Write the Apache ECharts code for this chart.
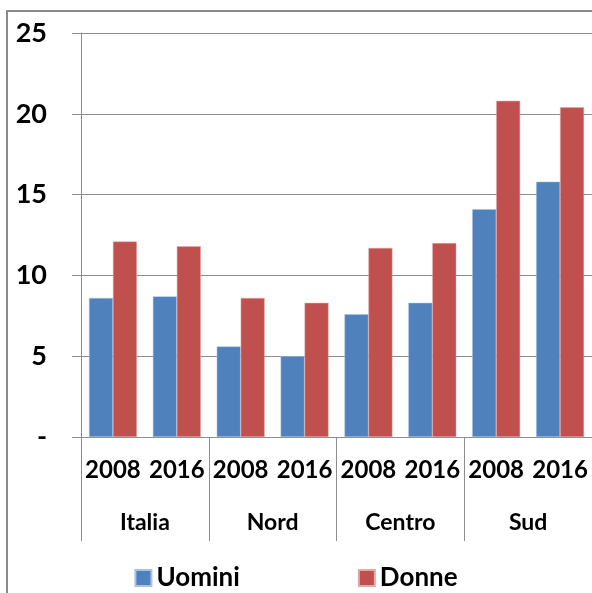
<!DOCTYPE html>
<html>
<head>
<meta charset="utf-8">
<script src="https://cdn.jsdelivr.net/npm/echarts@6/dist/echarts.min.js"></script>
<style>
  html, body { margin: 0; padding: 0; background: #fff; }
  #chart { width: 592px; height: 593px; }
</style>
</head>
<body>
<div id="chart"></div>
<script>
// dati
var anni = ['2008', '2016', '2008', '2016', '2008', '2016', '2008', '2016']
var aree = ['Italia', 'Nord', 'Centro', 'Sud']
var uomini = [8.6, 8.7, 5.6, 5.0, 7.6, 8.3, 14.1, 15.8]
var donne = [12.1, 11.8, 8.6, 8.3, 11.7, 12.0, 20.8, 20.4]
var yTicks = [0, 5, 10, 15, 20, 25]

var font = 'Lato, "Open Sans", sans-serif'
var grigio = '#8c8c8c'

var chart = echarts.init(document.getElementById('chart'))
var option = {
  animation: false,
  textStyle: { fontFamily: font },
  grid: { left: 81, top: 33, right: -1, bottom: 156, containLabel: false },
  graphic: [{
    type: 'rect',
    shape: { x: 7, y: 11, width: 640, height: 640 },
    style: { fill: null, stroke: '#8a8a8a', lineWidth: 2 },
    z: 100
  }],
  legend: {
    bottom: -3,
    left: 'center',
    icon: 'rect',
    itemWidth: 16,
    itemHeight: 16,
    itemGap: 118,
    textStyle: { fontSize: 26, fontWeight: 'bold', color: '#000', fontFamily: font },
    data: ['Uomini', 'Donne']
  },
  xAxis: [{
    type: 'category',
    data: anni,
    position: 'bottom',
    axisLine: { show: true, lineStyle: { color: grigio } },
    axisTick: { show: false },
    axisLabel: { margin: 21, fontSize: 24, fontWeight: 'bold', color: '#000', interval: 0 }
  }, {
    type: 'category',
    data: aree,
    position: 'bottom',
    axisLine: { show: false },
    axisTick: { show: true, length: 104, alignWithLabel: false, lineStyle: { color: grigio } },
    axisLabel: { margin: 74, fontSize: 23, fontWeight: 'bold', color: '#000', interval: 0 }
  }],
  yAxis: {
    type: 'value',
    min: yTicks[0],
    max: yTicks[yTicks.length - 1],
    interval: 5,
    axisLine: { show: true, lineStyle: { color: grigio } },
    axisTick: { show: true, length: 9, lineStyle: { color: grigio } },
    splitLine: { lineStyle: { color: grigio, width: 1 } },
    axisLabel: {
      margin: 34,
      fontSize: 27,
      fontWeight: 'bold',
      color: '#000',
      formatter: function (v) { return v === 0 ? '-' : v }
    }
  },
  series: [{
    name: 'Uomini',
    type: 'bar',
    xAxisIndex: 0,
    data: uomini,
    barGap: '0%',
    barCategoryGap: '25%',
    itemStyle: { color: '#4f81bd', borderColor: '#a9c2e2', borderWidth: 0.5 }
  }, {
    name: 'Donne',
    type: 'bar',
    xAxisIndex: 0,
    data: donne,
    itemStyle: { color: '#c0504d', borderColor: '#e3a9a7', borderWidth: 0.5 }
  }]
}
chart.setOption(option)
</script>
</body>
</html>
